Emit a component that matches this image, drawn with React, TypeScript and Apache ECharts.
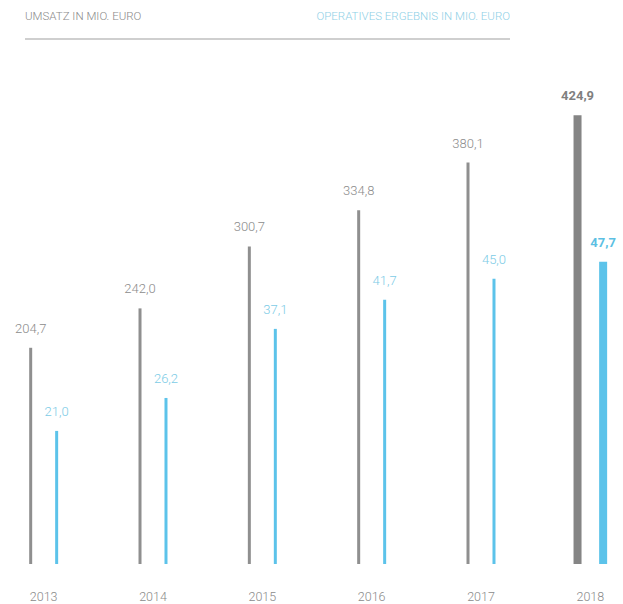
import React, { useEffect, useRef } from "react";
import * as echarts from "echarts";

const years = ["2013", "2014", "2015", "2016", "2017", "2018"];
const umsatz = [204.7, 242.0, 300.7, 334.8, 380.1, 424.9];
const ergebnis = [21.0, 26.2, 37.1, 41.7, 45.0, 47.7];
const highlightIndex = 5;
const leftTitle = "UMSATZ IN MIO. EURO";
const rightTitle = "OPERATIVES ERGEBNIS IN MIO. EURO";

const FONT = "Roboto";
const BLUE = "#5cc3ea";
const SHIFT = 11; // chart div starts 11px left of the page

const fmt = (p: any) => Number(p.value).toFixed(1).replace(".", ",");

export default function App() {
  const ref = useRef<HTMLDivElement>(null);
  useEffect(() => {
    if (!ref.current) return;
    const chart = echarts.init(ref.current, undefined, { renderer: "svg" });
    const thin = (arr: number[]) => arr.map((v, i) => (i === highlightIndex ? "-" : v));
    const thick = (arr: number[]) => arr.map((v, i) => (i === highlightIndex ? v : "-"));
    const labelBase = {
      show: true,
      position: "top",
      distance: 13,
      fontFamily: FONT,
      fontSize: 13,
      formatter: fmt,
    };
    chart.setOption({
      animation: false,
      grid: { left: 0, right: 0, top: 57, bottom: 40, containLabel: false },
      xAxis: [
        {
          type: "category",
          data: years,
          axisLine: { show: false },
          axisTick: { show: false },
          axisLabel: { color: "#8a8a8a", fontFamily: FONT, fontWeight: 300, fontSize: 12.5, margin: 26 },
        },
        { type: "category", data: years, show: false },
      ],
      yAxis: [
        { type: "value", min: 0, max: 480, show: false },
        { type: "value", min: 0, max: 80, show: false },
      ],
      graphic: [
        {
          type: "text",
          left: 25 + SHIFT,
          top: 10,
          style: { text: leftTitle, fill: "#8a8a8a", font: `300 11.5px ${FONT}` },
        },
        {
          type: "text",
          right: 113 + 22,
          top: 10,
          style: { text: rightTitle, fill: "#8fd0e6", font: `300 11.5px ${FONT}` },
        },
        {
          type: "line",
          shape: { x1: 25 + SHIFT, y1: 39, x2: 510 + SHIFT, y2: 39 },
          style: { stroke: "#cfcfcf", lineWidth: 2 },
        },
      ],
      series: [
        {
          type: "bar",
          name: "Umsatz",
          xAxisIndex: 0,
          yAxisIndex: 0,
          data: thin(umsatz),
          barWidth: 3,
          barGap: "766%",
          itemStyle: { color: "#8f8f8f" },
          label: { ...labelBase, color: "#8c8c8c", fontWeight: 300 },
        },
        {
          type: "bar",
          name: "Operatives Ergebnis",
          xAxisIndex: 0,
          yAxisIndex: 1,
          data: thin(ergebnis),
          barWidth: 3,
          barGap: "766%",
          itemStyle: { color: BLUE },
          label: { ...labelBase, color: "#7ccbe6", fontWeight: 300 },
        },
        {
          type: "bar",
          name: "Umsatz 2018",
          xAxisIndex: 1,
          yAxisIndex: 0,
          data: thick(umsatz),
          barWidth: 8,
          barGap: "220%",
          itemStyle: { color: "#858585" },
          label: { ...labelBase, color: "#7f7f7f", fontWeight: "bold" },
        },
        {
          type: "bar",
          name: "Ergebnis 2018",
          xAxisIndex: 1,
          yAxisIndex: 1,
          data: thick(ergebnis),
          barWidth: 8,
          barGap: "220%",
          itemStyle: { color: BLUE },
          label: { ...labelBase, color: "#5cbfe3", fontWeight: "bold" },
        },
      ],
    });
    return () => chart.dispose();
  }, []);
  return (
    <div
      ref={ref}
      style={{ position: "fixed", left: -SHIFT, top: 0, width: 656, height: 604, background: "#fff" }}
    />
  );
}
